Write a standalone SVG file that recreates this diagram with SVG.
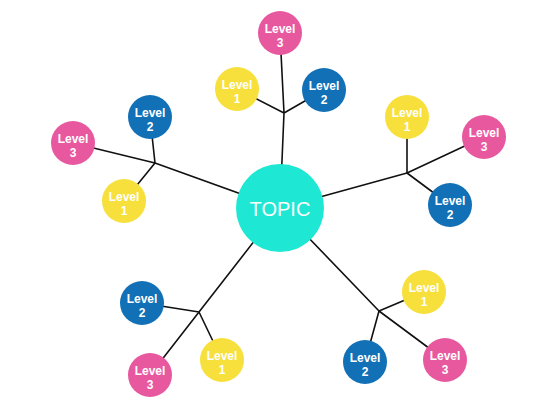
<svg xmlns="http://www.w3.org/2000/svg" width="560" height="420" viewBox="0 0 560 420">
<style>
.edge{stroke:#111;stroke-width:1.6;fill:none;stroke-linecap:round}
.l1{fill:#F7E03C}
.l2{fill:#1270B6}
.l3{fill:#E8589F}
.topic{fill:#1EE8D3}
.lbl{font-family:"Liberation Sans",Arial,sans-serif;font-size:12px;font-weight:bold;fill:#fff;text-anchor:middle}
.tt{font-family:"Liberation Sans",Arial,sans-serif;font-size:20px;fill:#fff;text-anchor:middle}
</style>
<rect width="560" height="420" fill="#fff"/>
<g id="connectors">
<path class="edge" d="M280 208 L284 113 M284 113 L280 33 M284 113 L237 89 M284 113 L324 90"/>
<path class="edge" d="M280 208 L155 163 M155 163 L73 143 M155 163 L150 117 M155 163 L124 201"/>
<path class="edge" d="M280 208 L407 173 M407 173 L407 117 M407 173 L484 137 M407 173 L450 205"/>
<path class="edge" d="M280 208 L199 312 M199 312 L142 303 M199 312 L150 375 M199 312 L222 360"/>
<path class="edge" d="M280 208 L379 311 M379 311 L424 292 M379 311 L365 362 M379 311 L445 360"/>
</g>
<g id="topic"><circle class="topic" cx="280" cy="208" r="44"/><text class="tt" x="280" y="216">TOPIC</text></g>
<g id="top-l3"><circle class="l3" cx="280" cy="33" r="22"/><text class="lbl" x="280" y="33">Level</text><text class="lbl" x="280" y="47">3</text></g>
<g id="top-l1"><circle class="l1" cx="237" cy="89" r="22"/><text class="lbl" x="237" y="89">Level</text><text class="lbl" x="237" y="103">1</text></g>
<g id="top-l2"><circle class="l2" cx="324" cy="90" r="22"/><text class="lbl" x="324" y="90">Level</text><text class="lbl" x="324" y="104">2</text></g>
<g id="tl-l2"><circle class="l2" cx="150" cy="117" r="22"/><text class="lbl" x="150" y="117">Level</text><text class="lbl" x="150" y="131">2</text></g>
<g id="tl-l3"><circle class="l3" cx="73" cy="143" r="22"/><text class="lbl" x="73" y="143">Level</text><text class="lbl" x="73" y="157">3</text></g>
<g id="tl-l1"><circle class="l1" cx="124" cy="201" r="22"/><text class="lbl" x="124" y="201">Level</text><text class="lbl" x="124" y="215">1</text></g>
<g id="tr-l1"><circle class="l1" cx="407" cy="117" r="22"/><text class="lbl" x="407" y="117">Level</text><text class="lbl" x="407" y="131">1</text></g>
<g id="tr-l3"><circle class="l3" cx="484" cy="137" r="22"/><text class="lbl" x="484" y="137">Level</text><text class="lbl" x="484" y="151">3</text></g>
<g id="tr-l2"><circle class="l2" cx="450" cy="205" r="22"/><text class="lbl" x="450" y="205">Level</text><text class="lbl" x="450" y="219">2</text></g>
<g id="bl-l2"><circle class="l2" cx="142" cy="303" r="22"/><text class="lbl" x="142" y="303">Level</text><text class="lbl" x="142" y="317">2</text></g>
<g id="bl-l3"><circle class="l3" cx="150" cy="375" r="22"/><text class="lbl" x="150" y="375">Level</text><text class="lbl" x="150" y="389">3</text></g>
<g id="bl-l1"><circle class="l1" cx="222" cy="360" r="22"/><text class="lbl" x="222" y="360">Level</text><text class="lbl" x="222" y="374">1</text></g>
<g id="br-l1"><circle class="l1" cx="424" cy="292" r="22"/><text class="lbl" x="424" y="292">Level</text><text class="lbl" x="424" y="306">1</text></g>
<g id="br-l2"><circle class="l2" cx="365" cy="362" r="22"/><text class="lbl" x="365" y="362">Level</text><text class="lbl" x="365" y="376">2</text></g>
<g id="br-l3"><circle class="l3" cx="445" cy="360" r="22"/><text class="lbl" x="445" y="360">Level</text><text class="lbl" x="445" y="374">3</text></g>
</svg>
